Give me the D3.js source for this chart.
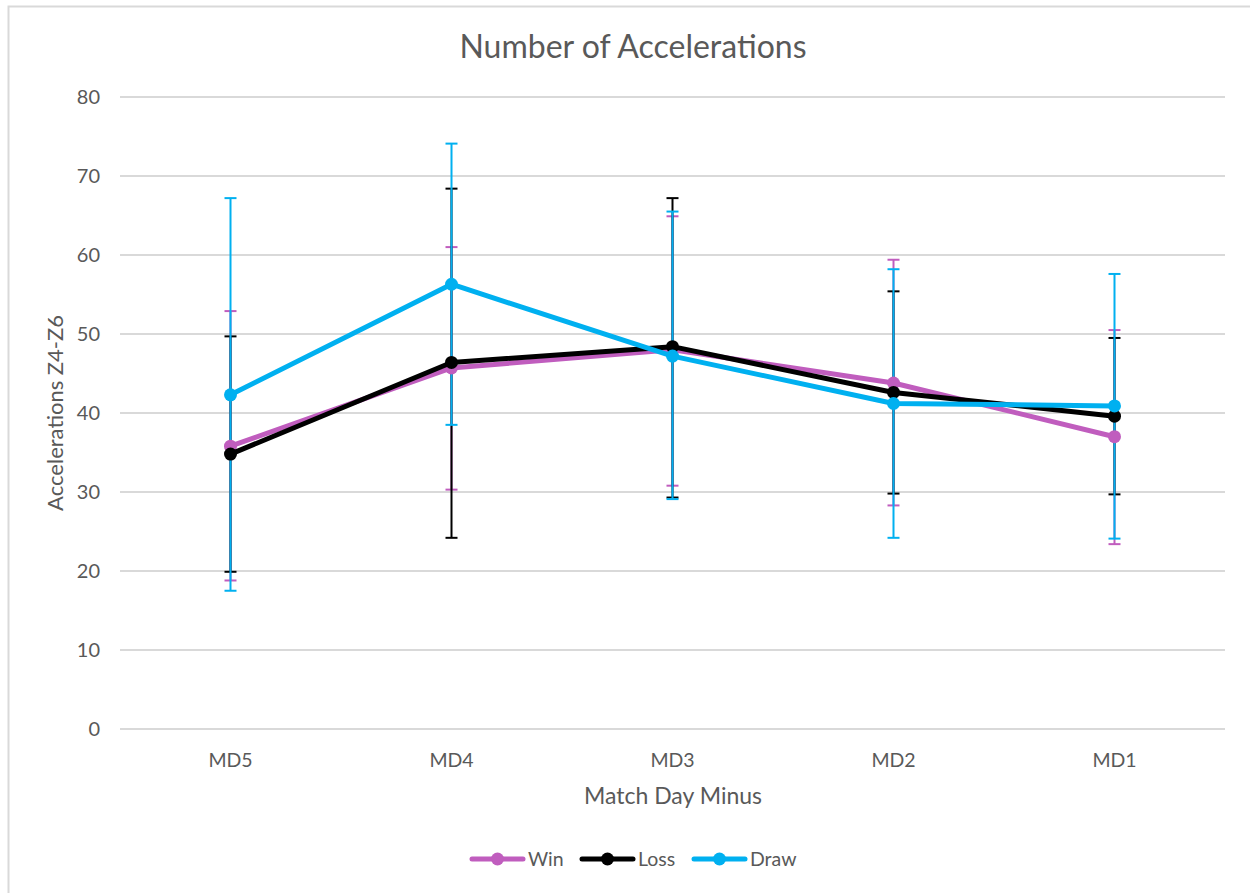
<!DOCTYPE html>
<html>
<head>
<meta charset="utf-8">
<script src="https://cdn.jsdelivr.net/npm/d3@7/dist/d3.min.js"></script>
<style>
  html, body { margin: 0; padding: 0; background: #fff; }
  svg { display: block; font-family: Lato, "Open Sans", sans-serif; }
</style>
</head>
<body>
<svg id="chart" width="1250" height="893"></svg>
<script>
// Match-day categories and tick values
const categories = ["MD5", "MD4", "MD3", "MD2", "MD1"];
const yTicks = [0, 10, 20, 30, 40, 50, 60, 70, 80];

// Mean accelerations (Z4-Z6) per outcome
const winMean  = [35.8, 45.7, 48.0, 43.8, 37.0];
const lossMean = [34.8, 46.4, 48.4, 42.6, 39.6];
const drawMean = [42.3, 56.3, 47.2, 41.2, 40.9];

// Error-bar limits per outcome
const winUpper  = [52.9, 61.0, 64.9, 59.4, 50.5];
const winLower  = [18.8, 30.3, 30.8, 28.3, 23.4];
const lossUpper = [49.7, 68.4, 67.2, 55.4, 49.5];
const lossLower = [19.9, 24.2, 29.3, 29.8, 29.7];
const drawUpper = [67.2, 74.1, 65.5, 58.2, 57.6];
const drawLower = [17.5, 38.5, 29.1, 24.2, 24.1];

const series = [
  { name: "Win",  color: "#C05DBE", mean: winMean,  upper: winUpper,  lower: winLower },
  { name: "Loss", color: "#000000", mean: lossMean, upper: lossUpper, lower: lossLower },
  { name: "Draw", color: "#00B0F0", mean: drawMean, upper: drawUpper, lower: drawLower }
];

const svg = d3.select("#chart");
const textColor = "#595959";
const gridColor = "#D9D9D9";

// outer frame
svg.append("rect")
  .attr("x", 8.5).attr("y", 6.5)
  .attr("width", 1300).attr("height", 1000)
  .attr("fill", "none").attr("stroke", gridColor).attr("stroke-width", 2);

const plot = { left: 120, right: 1225, top: 97, bottom: 729 };

const x = d3.scaleBand().domain(categories).range([plot.left, plot.right]);
const y = d3.scaleLinear().domain([0, 80]).range([plot.bottom, plot.top]);
const cx = c => x(c) + x.bandwidth() / 2;

// gridlines
svg.append("g")
  .selectAll("line")
  .data(yTicks)
  .join("line")
  .attr("x1", plot.left).attr("x2", plot.right)
  .attr("y1", d => y(d)).attr("y2", d => y(d))
  .attr("stroke", gridColor).attr("stroke-width", 2);

// y axis labels
const yAxis = d3.axisLeft(y).tickValues(yTicks).tickSize(0).tickPadding(20);
const gy = svg.append("g").attr("transform", `translate(${plot.left},0)`).call(yAxis);
gy.select(".domain").remove();
gy.selectAll("text").attr("fill", textColor).style("font-size", "20px").style("font-family", "Lato, sans-serif");

// x axis labels
const xAxis = d3.axisBottom(x).tickSize(0).tickPadding(24);
const gx = svg.append("g").attr("transform", `translate(0,${plot.bottom})`).call(xAxis);
gx.select(".domain").remove();
gx.selectAll("text").attr("fill", textColor).style("font-size", "19.5px").style("font-family", "Lato, sans-serif");

// title and axis titles
svg.append("text")
  .attr("x", 633).attr("y", 58)
  .attr("text-anchor", "middle")
  .attr("fill", textColor)
  .style("font-size", "32px")
  .text("Number of Accelerations");

svg.append("text")
  .attr("x", 673).attr("y", 804)
  .attr("text-anchor", "middle")
  .attr("fill", textColor)
  .style("font-size", "23px")
  .text("Match Day Minus");

svg.append("text")
  .attr("transform", "translate(63,413) rotate(-90)")
  .attr("text-anchor", "middle")
  .attr("fill", textColor)
  .style("font-size", "22px")
  .text("Accelerations Z4-Z6");

// error bars
const capHalf = 6;
const errG = svg.append("g");
series.forEach(s => {
  const g = errG.append("g");
  const d = categories.map((c, i) => ({ c, up: s.upper[i], lo: s.lower[i] }));
  g.selectAll(".stem").data(d).join("line")
    .attr("x1", e => cx(e.c)).attr("x2", e => cx(e.c))
    .attr("y1", e => y(e.up)).attr("y2", e => y(e.lo))
    .attr("stroke", s.color).attr("stroke-width", 2);
  g.selectAll(".capU").data(d).join("line")
    .attr("x1", e => cx(e.c) - capHalf).attr("x2", e => cx(e.c) + capHalf)
    .attr("y1", e => y(e.up)).attr("y2", e => y(e.up))
    .attr("stroke", s.color).attr("stroke-width", 2);
  g.selectAll(".capL").data(d).join("line")
    .attr("x1", e => cx(e.c) - capHalf).attr("x2", e => cx(e.c) + capHalf)
    .attr("y1", e => y(e.lo)).attr("y2", e => y(e.lo))
    .attr("stroke", s.color).attr("stroke-width", 2);
});

// lines and markers
const line = d3.line().x(d => cx(d.c)).y(d => y(d.v));
series.forEach(s => {
  const d = categories.map((c, i) => ({ c, v: s.mean[i] }));
  svg.append("path")
    .datum(d)
    .attr("d", line)
    .attr("fill", "none")
    .attr("stroke", s.color)
    .attr("stroke-width", 5)
    .attr("stroke-linejoin", "round");
  svg.append("g").selectAll("circle").data(d).join("circle")
    .attr("cx", e => cx(e.c)).attr("cy", e => y(e.v))
    .attr("r", 6.5)
    .attr("fill", s.color);
});

// legend
const legendItems = [
  { s: series[0], x0: 472, tx: 528 },
  { s: series[1], x0: 582, tx: 638 },
  { s: series[2], x0: 694, tx: 750 }
];
const lg = svg.append("g");
legendItems.forEach(it => {
  lg.append("line")
    .attr("x1", it.x0).attr("x2", it.x0 + 51)
    .attr("y1", 859).attr("y2", 859)
    .attr("stroke", it.s.color).attr("stroke-width", 5).attr("stroke-linecap", "round");
  lg.append("circle")
    .attr("cx", it.x0 + 25.5).attr("cy", 859).attr("r", 6.5)
    .attr("fill", it.s.color);
  lg.append("text")
    .attr("x", it.tx).attr("y", 866)
    .attr("fill", textColor)
    .style("font-size", "19.5px")
    .text(it.s.name);
});
</script>
</body>
</html>
